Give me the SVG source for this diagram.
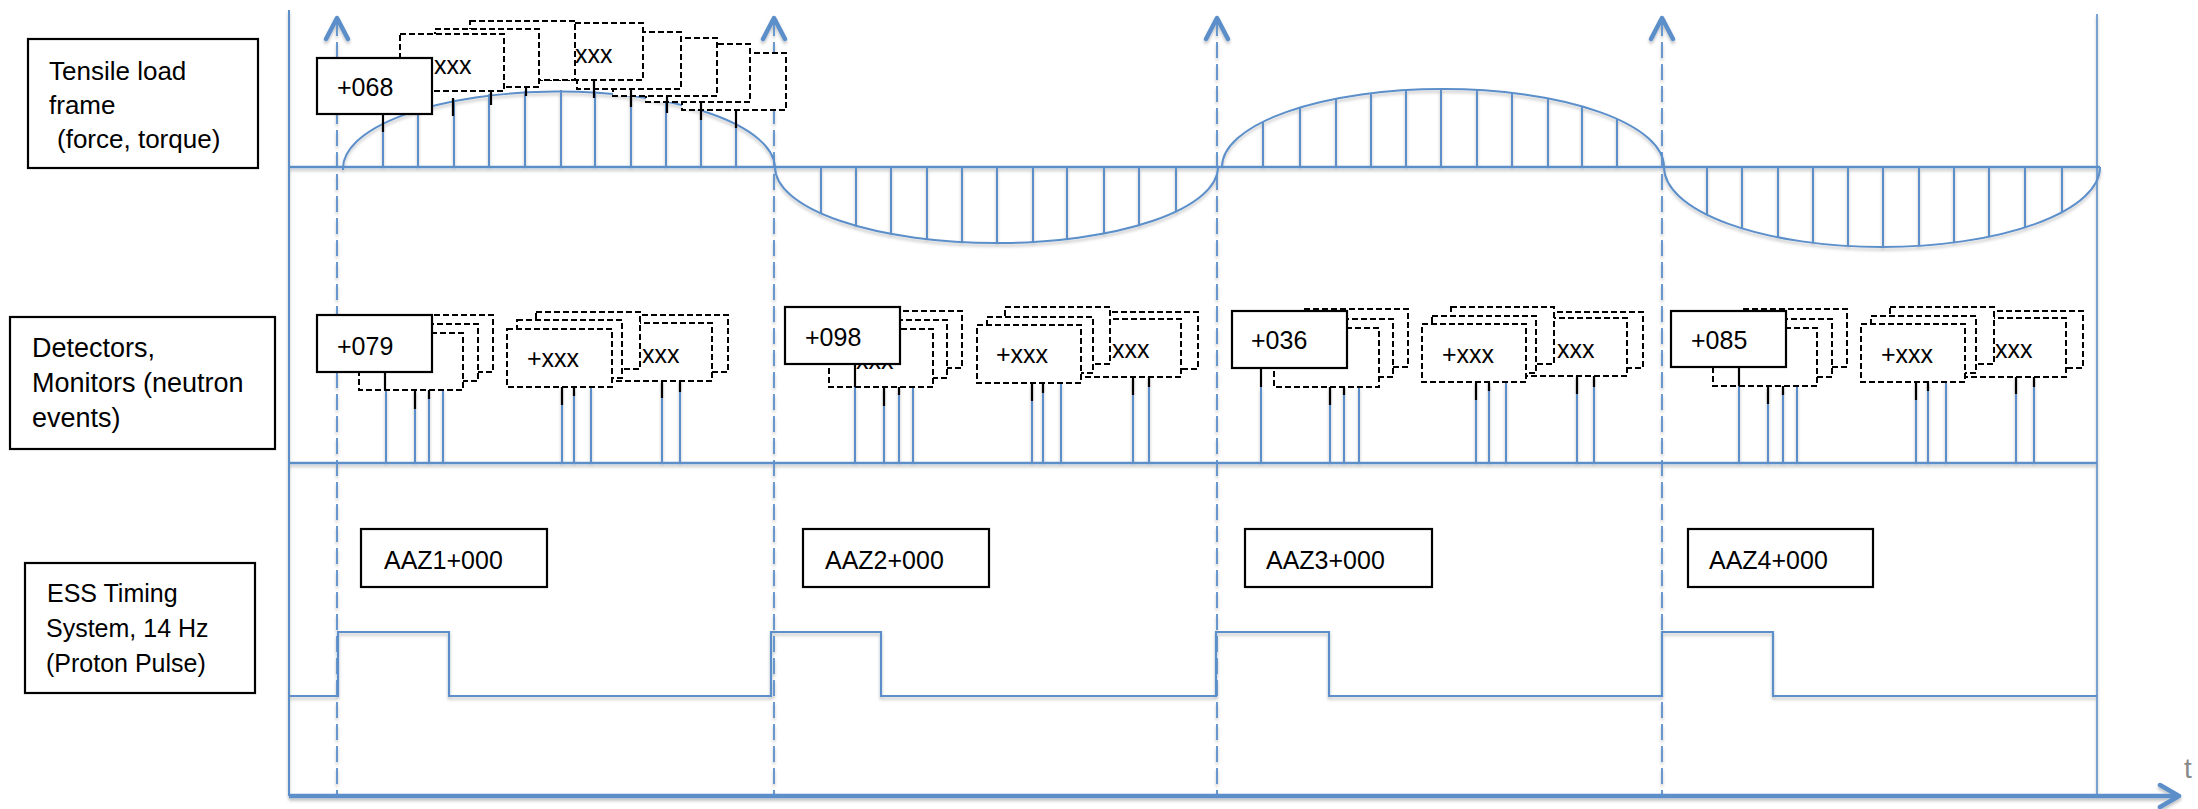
<svg xmlns="http://www.w3.org/2000/svg" width="2198" height="809" viewBox="0 0 2198 809">
<style>
.bl{stroke:#5b8fca;fill:none;stroke-linecap:butt}
.ax{stroke-width:2}
.tk{stroke:#5b8fca;stroke-width:2}
.dash{stroke:#5b8fca;stroke-width:1.8;stroke-dasharray:16 6;fill:none}
.arr{stroke:#5b8fca;stroke-width:4.5;fill:none;stroke-linecap:round;stroke-linejoin:round}
.db{fill:#fff;stroke:#000;stroke-width:2;stroke-dasharray:6 3}
.sb{fill:#fff;stroke:#000;stroke-width:2.2}
.pin{stroke:#000;stroke-width:2.2}
.t{font-family:"Liberation Sans",Arial,sans-serif;font-size:25px;fill:#000}
.lb{font-family:"Liberation Sans",Arial,sans-serif;fill:#000}
</style>
<defs>
<filter id="sh" filterUnits="userSpaceOnUse" x="0" y="0" width="2198" height="809">
<feDropShadow dx="0" dy="2.5" stdDeviation="1.8" flood-color="#000" flood-opacity="0.25"/>
</filter>
<clipPath id="c1"><ellipse cx="559" cy="167" rx="216" ry="77"/></clipPath>
<clipPath id="c2"><ellipse cx="996.5" cy="167" rx="221.5" ry="76"/></clipPath>
<clipPath id="c3"><ellipse cx="1443" cy="167" rx="221" ry="78"/></clipPath>
<clipPath id="c4"><ellipse cx="1882" cy="167" rx="218" ry="80"/></clipPath>
</defs>
<rect x="0" y="0" width="2198" height="809" fill="#fff"/>

<!-- connectors / axes / waveforms -->
<g id="connectors" filter="url(#sh)">
  <line class="bl ax" x1="289" y1="10" x2="289" y2="796"/>
  <line class="bl" stroke-width="1.6" x1="2097" y1="14" x2="2097" y2="796"/>
  <line class="bl" stroke-width="2.5" x1="289" y1="167" x2="2100" y2="167"/>
  <line class="bl" stroke-width="2.5" x1="289" y1="463" x2="2097" y2="463"/>
  <!-- time axis -->
  <line class="bl" stroke-width="4.5" x1="289" y1="796" x2="2176" y2="796"/>
  <polyline class="arr" points="2160,785 2179,796 2160,807"/>
  <!-- pulse sync dashed lines -->
  <line class="dash" x1="337" y1="20" x2="337" y2="796"/>
  <line class="dash" x1="774" y1="20" x2="774" y2="796"/>
  <line class="dash" x1="1217" y1="20" x2="1217" y2="796"/>
  <line class="dash" x1="1662" y1="20" x2="1662" y2="796"/>
  <polyline class="arr" points="326,39 337,18 348,39"/>
  <polyline class="arr" points="763,39 774,18 785,39"/>
  <polyline class="arr" points="1206,39 1217,18 1228,39"/>
  <polyline class="arr" points="1651,39 1662,18 1673,39"/>
  <!-- force waveform -->
  <path class="bl" stroke-width="2" d="M343,170 A216,77 0 0 1 775,167 A221.5,76 0 0 0 1218,167"/>
  <path class="bl" stroke-width="2" d="M1222,167 A221,78 0 0 1 1664,167 A218,80 0 0 0 2100,167"/>
  <g clip-path="url(#c1)" class="tk">
    <path d="M383,167V85M418,167V85M454,167V85M489,167V85M525,167V85M561,167V85M595,167V85M631,167V85M666,167V85M701,167V85M736,167V85"/>
  </g>
  <g clip-path="url(#c2)" class="tk">
    <path d="M821,167V250M856,167V250M891,167V250M927,167V250M962,167V250M997,167V250M1033,167V250M1067,167V250M1104,167V250M1139,167V250M1176,167V250"/>
  </g>
  <g clip-path="url(#c3)" class="tk">
    <path d="M1263,167V85M1300,167V85M1336,167V85M1371,167V85M1406,167V85M1441,167V85M1477,167V85M1512,167V85M1548,167V85M1582,167V85M1617,167V85"/>
  </g>
  <g clip-path="url(#c4)" class="tk">
    <path d="M1707,167V255M1742,167V255M1778,167V255M1813,167V255M1848,167V255M1883,167V255M1919,167V255M1954,167V255M1989,167V255M2025,167V255M2062,167V255"/>
  </g>
  <!-- neutron events -->
  <path class="tk" d="M386,390V463M415,390V463M429,390V463M443,390V463M562,387V463M574,387V463M591,387V463M662,381V463M680,381V463"/>
  <path class="tk" d="M855,387V463M884,387V463M899,387V463M913,387V463M1032,383V463M1043,383V463M1061,383V463M1133,377V463M1149,377V463"/>
  <path class="tk" d="M1261,387V463M1330,387V463M1344,387V463M1359,387V463M1476,382V463M1489,382V463M1506,382V463M1577,376V463M1594,376V463"/>
  <path class="tk" d="M1739,386V463M1768,386V463M1783,386V463M1797,386V463M1916,382V463M1928,382V463M1946,382V463M2016,377V463M2034,377V463"/>
  <!-- proton pulse -->
  <path class="bl" stroke-width="2.2" d="M289,696H338V632H449V696H771V632H881V696H1216V632H1329V696H1662V632H1773V696H2097"/>
</g>

<!-- row labels -->
<g id="label-tensile">
  <rect class="sb" x="28" y="39" width="230" height="129"/>
  <text class="lb" font-size="26" x="49" y="80">Tensile load</text>
  <text class="lb" font-size="26" x="49" y="114">frame</text>
  <text class="lb" font-size="26" x="57" y="148">(force, torque)</text>
</g>
<g id="label-detectors">
  <rect class="sb" x="10" y="317" width="265" height="132"/>
  <text class="lb" font-size="27" x="32" y="357">Detectors,</text>
  <text class="lb" font-size="27" x="32" y="392">Monitors (neutron</text>
  <text class="lb" font-size="27" x="32" y="427">events)</text>
</g>
<g id="label-ess">
  <rect class="sb" x="25" y="563" width="230" height="130"/>
  <text class="lb" font-size="25" x="47" y="602">ESS Timing</text>
  <text class="lb" font-size="25" x="46" y="637">System, 14 Hz</text>
  <text class="lb" font-size="25" x="46" y="672">(Proton Pulse)</text>
</g>

<!-- force samples -->
<g id="force-samples">
  <rect class="db" x="682" y="53" width="104" height="57"/>
  <rect class="db" x="646" y="44" width="104" height="58"/>
  <rect class="db" x="613" y="38" width="104" height="58"/>
  <rect class="db" x="577" y="32" width="104" height="57"/>
  <rect class="db" x="539" y="23" width="104" height="57"/>
  <text class="t" x="575" y="63">xxx</text>
  <rect class="db" x="470" y="21" width="105" height="59"/>
  <rect class="db" x="435" y="29" width="104" height="58"/>
  <rect class="db" x="400" y="34" width="104" height="57"/>
  <text class="t" x="434" y="74">xxx</text>
  <path class="pin" d="M453,98V116M491,91V105M526,87V96M594,80V98M631,89V107M667,96V113M701,102V120M736,110V128"/>
</g>
<g id="force-068">
  <rect class="sb" x="317" y="58" width="115" height="56"/>
  <text class="t" x="337" y="96">+068</text>
  <path class="pin" d="M383,114V132"/>
</g>

<!-- detector groups -->
<g id="det-group-1">
  <rect class="db" x="624" y="315" width="104" height="57"/>
  <rect class="db" x="608" y="323" width="104" height="58"/>
  <text class="t" x="642" y="363">xxx</text>
  <rect class="db" x="536" y="312" width="104" height="57"/>
  <rect class="db" x="517" y="320" width="105" height="58"/>
  <rect class="db" x="507" y="329" width="105" height="58"/>
  <text class="t" x="527" y="367">+xxx</text>
  <rect class="db" x="389" y="315" width="104" height="57"/>
  <rect class="db" x="374" y="324" width="104" height="57"/>
  <rect class="db" x="359" y="333" width="104" height="57"/>
  <rect class="sb" x="317" y="315" width="115" height="57"/>
  <text class="t" x="337" y="355">+079</text>
  <path class="pin" d="M385,372V390M415,390V409M429,390V399M562,387V405M574,387V396M662,381V398M680,381V392"/>
</g>
<g id="det-group-2">
  <rect class="db" x="1094" y="312" width="104" height="57"/>
  <rect class="db" x="1077" y="319" width="104" height="58"/>
  <text class="t" x="1112" y="358">xxx</text>
  <rect class="db" x="1005" y="307" width="105" height="57"/>
  <rect class="db" x="987" y="317" width="106" height="56"/>
  <rect class="db" x="977" y="325" width="104" height="58"/>
  <text class="t" x="996" y="363">+xxx</text>
  <rect class="db" x="858" y="311" width="104" height="57"/>
  <rect class="db" x="843" y="320" width="104" height="58"/>
  <rect class="db" x="829" y="329" width="104" height="58"/>
  <text class="t" x="856" y="369">xxx</text>
  <rect class="sb" x="785" y="307" width="115" height="57"/>
  <text class="t" x="805" y="346">+098</text>
  <path class="pin" d="M855,364V387M884,387V406M899,387V395M1032,383V401M1043,383V393M1133,377V395M1149,377V387"/>
</g>
<g id="det-group-3">
  <rect class="db" x="1539" y="312" width="104" height="56"/>
  <rect class="db" x="1523" y="318" width="104" height="58"/>
  <text class="t" x="1557" y="358">xxx</text>
  <rect class="db" x="1451" y="307" width="103" height="57"/>
  <rect class="db" x="1432" y="316" width="104" height="57"/>
  <rect class="db" x="1422" y="324" width="104" height="58"/>
  <text class="t" x="1442" y="363">+xxx</text>
  <rect class="db" x="1304" y="309" width="104" height="58"/>
  <rect class="db" x="1289" y="319" width="104" height="58"/>
  <rect class="db" x="1274" y="328" width="105" height="59"/>
  <rect class="sb" x="1232" y="311" width="115" height="57"/>
  <text class="t" x="1251" y="349">+036</text>
  <path class="pin" d="M1261,368V387M1330,387V405M1344,387V395M1476,382V400M1489,382V391M1577,376V394M1594,376V387"/>
</g>
<g id="det-group-4">
  <rect class="db" x="1979" y="311" width="104" height="57"/>
  <rect class="db" x="1962" y="318" width="104" height="59"/>
  <text class="t" x="1995" y="358">xxx</text>
  <rect class="db" x="1890" y="307" width="104" height="57"/>
  <rect class="db" x="1871" y="316" width="105" height="57"/>
  <rect class="db" x="1861" y="324" width="104" height="58"/>
  <text class="t" x="1881" y="363">+xxx</text>
  <rect class="db" x="1743" y="309" width="104" height="58"/>
  <rect class="db" x="1728" y="319" width="104" height="58"/>
  <rect class="db" x="1713" y="328" width="104" height="58"/>
  <rect class="sb" x="1671" y="311" width="115" height="56"/>
  <text class="t" x="1691" y="349">+085</text>
  <path class="pin" d="M1739,367V386M1768,386V404M1783,386V395M1916,382V400M1928,382V391M2016,377V394M2034,377V387"/>
</g>

<!-- timing stamps -->
<g id="aaz1"><rect class="sb" x="361" y="529" width="186" height="58"/><text class="t" x="384" y="569">AAZ1+000</text></g>
<g id="aaz2"><rect class="sb" x="803" y="529" width="186" height="58"/><text class="t" x="825" y="569">AAZ2+000</text></g>
<g id="aaz3"><rect class="sb" x="1245" y="529" width="187" height="58"/><text class="t" x="1266" y="569">AAZ3+000</text></g>
<g id="aaz4"><rect class="sb" x="1688" y="529" width="185" height="58"/><text class="t" x="1709" y="569">AAZ4+000</text></g>

<text id="t-label" x="2184" y="778" font-family="Liberation Sans, Arial, sans-serif" font-size="28" fill="#8a8a8a">t</text>
</svg>
